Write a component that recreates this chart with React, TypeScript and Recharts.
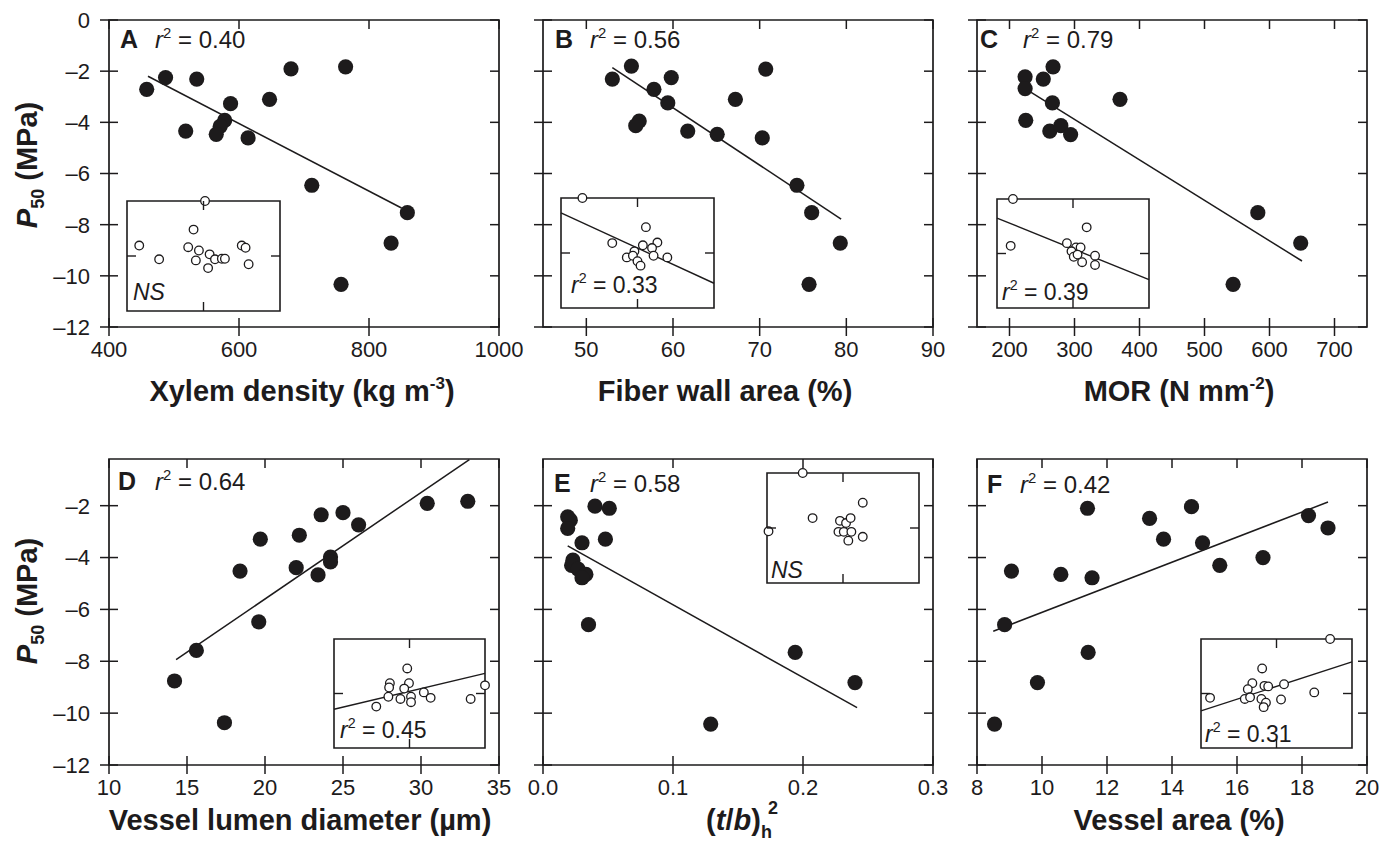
import React from 'react';
import { ScatterChart, Scatter, XAxis, YAxis, ReferenceLine, ReferenceArea } from 'recharts';

const FONT = '"Liberation Sans", Arial, Helvetica, sans-serif';
const INK = '#1d1b1c';

// ---------- Main panel data ----------
const A_X = [458, 487, 535, 680, 764, 587, 647, 518, 578, 571, 565, 614, 712, 859, 834, 757];
const A_Y = [-2.71, -2.25, -2.31, -1.91, -1.83, -3.27, -3.1, -4.34, -3.92, -4.16, -4.47, -4.61, -6.46, -7.53, -8.72, -10.33];
const A_FIT = [{ x: 460, y: -2.2 }, { x: 850, y: -7.35 }];

const B_X = [53.0, 55.2, 59.8, 57.8, 59.4, 70.7, 67.2, 56.1, 55.7, 61.7, 65.1, 70.3, 74.3, 76.0, 79.3, 75.7];
const B_Y = [-2.31, -1.8, -2.25, -2.71, -3.24, -1.92, -3.1, -3.95, -4.13, -4.34, -4.47, -4.61, -6.46, -7.53, -8.72, -10.33];
const B_FIT = [{ x: 53.0, y: -1.86 }, { x: 79.4, y: -7.78 }];

const C_X = [224, 224, 252, 267, 266, 370, 225, 262, 279, 294, 544, 582, 648];
const C_Y = [-2.22, -2.68, -2.31, -1.83, -3.24, -3.1, -3.92, -4.34, -4.13, -4.48, -10.33, -7.53, -8.72];
const C_FIT = [{ x: 224, y: -2.68 }, { x: 650, y: -9.42 }];

const D_X = [14.2, 15.6, 17.4, 18.4, 19.7, 19.6, 22.2, 22.0, 23.6, 25.0, 26.0, 23.4, 24.2, 24.2, 30.4, 33.0];
const D_Y = [-8.76, -7.58, -10.37, -4.52, -3.29, -6.48, -3.14, -4.39, -2.35, -2.27, -2.74, -4.67, -3.98, -4.17, -1.91, -1.83];
const D_FIT = [{ x: 14.3, y: -7.94 }, { x: 33.1, y: -0.22 }];

const E_X = [0.019, 0.021, 0.019, 0.04, 0.051, 0.03, 0.048, 0.023, 0.022, 0.027, 0.033, 0.03, 0.035, 0.194, 0.24, 0.129];
const E_Y = [-2.43, -2.56, -2.88, -2.02, -2.1, -3.43, -3.29, -4.1, -4.3, -4.45, -4.65, -4.78, -6.59, -7.66, -8.82, -10.42];
const E_FIT = [{ x: 0.019, y: -3.55 }, { x: 0.2416, y: -9.79 }];

const F_X = [8.54, 8.85, 9.06, 9.86, 10.58, 11.4, 11.54, 11.42, 13.31, 13.74, 14.6, 14.94, 15.47, 16.8, 18.2, 18.8];
const F_Y = [-10.42, -6.59, -4.52, -8.82, -4.65, -2.1, -4.78, -7.66, -2.49, -3.29, -2.04, -3.43, -4.3, -4.0, -2.38, -2.86];
const F_FIT = [{ x: 8.5, y: -6.84 }, { x: 18.8, y: -1.86 }];

// ---------- Axis ticks ----------
const A_TICKS = [400, 600, 800, 1000];
const B_TICKS = [50, 60, 70, 80, 90];
const C_TICKS = [200, 300, 400, 500, 600, 700];
const D_TICKS = [10, 15, 20, 25, 30, 35];
const E_TICKS = [0, 0.1, 0.2, 0.3];
const F_TICKS = [8, 10, 12, 14, 16, 18, 20];
const TOP_Y_TICKS = [0, -2, -4, -6, -8, -10, -12];
const BOTTOM_Y_TICKS = [-2, -4, -6, -8, -10, -12];

// ---------- Inset data (standardised contrasts) ----------
const IA_X = [0.02, -0.13, -0.84, -0.58, -0.2, -0.06, 0.08, -0.1, 0.15, 0.24, 0.28, 0.06, 0.5, 0.55, 0.59];
const IA_Y = [1.0, 0.48, 0.19, -0.06, 0.16, 0.1, 0.03, -0.08, -0.06, -0.05, -0.05, -0.22, 0.19, 0.15, -0.15];

const IB_X = [-0.72, 0.11, -0.33, 0.07, 0.26, 0.19, -0.04, -0.14, -0.06, 0.21, 0.39, 0.0, 0.04];
const IB_Y = [1.0, 0.47, 0.18, 0.14, 0.19, 0.09, 0.03, -0.08, -0.05, -0.05, -0.08, -0.15, -0.23];
const IB_FIT = [{ x: -1, y: 0.73 }, { x: 1, y: -0.55 }];

const IC_X = [-0.79, -0.82, 0.18, -0.08, 0.04, 0.1, -0.02, 0.01, 0.12, 0.29, 0.29, 0.06];
const IC_Y = [1.0, 0.14, 0.48, 0.19, 0.11, 0.11, 0.04, -0.06, -0.16, -0.04, -0.21, -0.02];
const IC_FIT = [{ x: -1, y: 0.65 }, { x: 1, y: -0.48 }];

const ID_X = [-0.03, -0.26, -0.27, -0.007, -0.07, -0.28, -0.12, 0.02, 0.02, 0.19, 0.28, -0.44, 0.81, 1.0];
const ID_Y = [0.46, 0.19, 0.11, 0.19, 0.09, -0.06, -0.1, -0.06, -0.16, 0.02, -0.08, -0.24, -0.1, 0.15];
const ID_FIT = [{ x: -1, y: -0.29 }, { x: 1, y: 0.37 }];

const IE_X = [-0.53, -0.4, -0.98, -0.04, 0.04, 0.1, -0.06, 0.01, 0.11, 0.07, 0.26, 0.26];
const IE_Y = [1.0, 0.18, -0.06, 0.13, 0.09, 0.18, -0.07, -0.07, -0.07, -0.23, 0.46, -0.16];

const IF_X = [0.71, -0.19, -0.32, -0.38, -0.16, -0.11, 0.1, -0.88, -0.42, -0.35, -0.2, -0.14, -0.17, 0.06, 0.5];
const IF_Y = [1.0, 0.46, 0.19, 0.08, 0.14, 0.13, 0.17, -0.08, -0.1, -0.07, -0.1, -0.17, -0.25, -0.11, 0.02];
const IF_FIT = [{ x: -1, y: -0.32 }, { x: 1, y: 0.58 }];

type Pt = { x: number; y: number };
const zip = (xs: number[], ys: number[]): Pt[] => xs.map((x, i) => ({ x, y: ys[i] }));

const fmtY = (v: number) => (v === 0 ? '0' : '\u2013' + Math.abs(v));

interface PanelProps {
  left: number;
  top: number;
  h: number;
  xDomain: [number, number];
  xTicks: number[];
  yDomain: [number, number];
  yTicks: number[];
  showYLabels: boolean;
  data: Pt[];
  fit: Pt[];
  fmtX: (v: number) => string;
}

function Panel(props: PanelProps) {
  const { left, top, h, xDomain, xTicks, yDomain, yTicks, showYLabels, data, fit, fmtX } = props;
  const PL = 100, PT = 20, PR = 40, XH = 110, PW = 390;
  const W = PL + PW + PR;
  const H = PT + h + XH;
  const pTop = PT, pBottom = PT + h, pLeft = PL, pRight = PL + PW;

  const XTick = (p: any) => {
    const x = p.x;
    return (
      <g>
        <line x1={x} x2={x} y1={pBottom - 9} y2={pBottom + 9} stroke={INK} strokeWidth={1.5} />
        <line x1={x} x2={x} y1={pTop} y2={pTop + 9} stroke={INK} strokeWidth={1.5} />
        <text x={x} y={pBottom + 30} textAnchor="middle" fontSize={22} fontFamily={FONT} fill={INK}>
          {fmtX(p.payload.value)}
        </text>
      </g>
    );
  };
  const YTick = (p: any) => {
    const y = p.y;
    return (
      <g>
        <line x1={pLeft - 9} x2={pLeft + 9} y1={y} y2={y} stroke={INK} strokeWidth={1.5} />
        <line x1={pRight - 9} x2={pRight} y1={y} y2={y} stroke={INK} strokeWidth={1.5} />
        {showYLabels && (
          <text x={pLeft - 19} y={y} dy="0.36em" textAnchor="end" fontSize={22} fontFamily={FONT} fill={INK}>
            {fmtY(p.payload.value)}
          </text>
        )}
      </g>
    );
  };

  return (
    <div style={{ position: 'absolute', left: left - PL, top: top - PT }}>
      <ScatterChart width={W} height={H} margin={{ top: PT, right: PR, bottom: 0, left: 0 }}>
        <XAxis
          type="number"
          dataKey="x"
          domain={xDomain}
          ticks={xTicks}
          interval={0}
          height={XH}
          tick={XTick}
          tickLine={false}
          axisLine={false}
        />
        <YAxis
          type="number"
          dataKey="y"
          domain={yDomain}
          ticks={yTicks}
          interval={0}
          width={PL}
          tick={YTick}
          tickLine={false}
          axisLine={false}
        />
        <ReferenceArea
          x1={xDomain[0]}
          x2={xDomain[1]}
          y1={yDomain[0]}
          y2={yDomain[1]}
          fill="none"
          fillOpacity={0}
          stroke={INK}
          strokeWidth={1.7}
          ifOverflow="visible"
        />
        <ReferenceLine segment={fit as any} stroke={INK} strokeWidth={1.5} ifOverflow="visible" />
        <Scatter
          data={data}
          isAnimationActive={false}
          shape={(p: any) => <circle cx={p.cx} cy={p.cy} r={7.6} fill={INK} />}
        />
      </ScatterChart>
    </div>
  );
}

interface InsetProps {
  left: number;
  top: number;
  w: number;
  h: number;
  data: Pt[];
  fit?: Pt[];
}

function Inset(props: InsetProps) {
  const { left, top, w, h, data, fit } = props;
  const M = 12;
  const pTop = M, pBottom = M + h, pLeft = M, pRight = M + w;
  const XTick = (p: any) => (
    <g>
      <line x1={p.x} x2={p.x} y1={pBottom - 9} y2={pBottom} stroke={INK} strokeWidth={1.4} />
      <line x1={p.x} x2={p.x} y1={pTop} y2={pTop + 9} stroke={INK} strokeWidth={1.4} />
    </g>
  );
  const YTick = (p: any) => (
    <g>
      <line x1={pLeft} x2={pLeft + 9} y1={p.y} y2={p.y} stroke={INK} strokeWidth={1.4} />
      <line x1={pRight - 9} x2={pRight} y1={p.y} y2={p.y} stroke={INK} strokeWidth={1.4} />
    </g>
  );
  return (
    <div style={{ position: 'absolute', left: left - M, top: top - M }}>
      <ScatterChart width={w + 2 * M} height={h + 2 * M} margin={{ top: M, right: M, bottom: 0, left: 0 }}>
        <XAxis type="number" dataKey="x" domain={[-1, 1]} ticks={[0]} height={M} tick={XTick} tickLine={false} axisLine={false} />
        <YAxis type="number" dataKey="y" domain={[-1, 1]} ticks={[0]} width={M} tick={YTick} tickLine={false} axisLine={false} />
        <ReferenceArea x1={-1} x2={1} y1={-1} y2={1} fill="#ffffff" fillOpacity={1} stroke={INK} strokeWidth={1.6} ifOverflow="visible" />
        {fit && <ReferenceLine segment={fit as any} stroke={INK} strokeWidth={1.4} ifOverflow="visible" />}
        <Scatter
          data={data}
          isAnimationActive={false}
          shape={(p: any) => <circle cx={p.cx} cy={p.cy} r={4.3} fill="#ffffff" stroke={INK} strokeWidth={1.3} />}
        />
      </ScatterChart>
    </div>
  );
}

const R2 = ({ x, y, value, size = 24 }: { x: number; y: number; value: string; size?: number }) => (
  <text x={x} y={y} fontSize={size} fontFamily={FONT} fill={INK}>
    <tspan fontStyle="italic">r</tspan>
    <tspan fontSize={size * 0.62} dy={-size * 0.42}>2</tspan>
    <tspan dy={size * 0.42}>{' = ' + value}</tspan>
  </text>
);

const Letter = ({ x, y, t }: { x: number; y: number; t: string }) => (
  <text x={x} y={y} fontSize={25} fontWeight="bold" fontFamily={FONT} fill={INK}>{t}</text>
);

const NS = ({ x, y }: { x: number; y: number }) => (
  <text x={x} y={y} fontSize={23} fontStyle="italic" fontFamily={FONT} fill={INK}>NS</text>
);

const YTitle = ({ cy }: { cy: number }) => (
  <text transform={`translate(37,${cy}) rotate(-90)`} textAnchor="middle" fontSize={29} fontWeight="bold" fontFamily={FONT} fill={INK}>
    <tspan fontStyle="italic">P</tspan>
    <tspan fontSize={18} dy={7}>50</tspan>
    <tspan dy={-7}> (MPa)</tspan>
  </text>
);

const TitleText = ({ x, y, children }: { x: number; y: number; children: React.ReactNode }) => (
  <text x={x} y={y} textAnchor="middle" fontSize={29} fontWeight="bold" fontFamily={FONT} fill={INK}>
    {children}
  </text>
);

const fmt0 = (v: number) => String(v);
const fmt1 = (v: number) => v.toFixed(1);

export default function App() {
  const TOP_T = 20, TOP_H = 307;
  const BOT_T = 459, BOT_H = 306;
  const COLS = [109, 543, 977];
  const TITLE_TOP = 401;
  const TITLE_BOT = 830;
  return (
    <div style={{ position: 'absolute', left: 0, top: 0, width: 1395, height: 855, background: '#ffffff', overflow: 'hidden' }}>
      <Panel left={COLS[0]} top={TOP_T} h={TOP_H} xDomain={[400, 1000]} xTicks={A_TICKS} yDomain={[-12, 0]} yTicks={TOP_Y_TICKS} showYLabels data={zip(A_X, A_Y)} fit={A_FIT} fmtX={fmt0} />
      <Panel left={COLS[1]} top={TOP_T} h={TOP_H} xDomain={[45, 90]} xTicks={B_TICKS} yDomain={[-12, 0]} yTicks={TOP_Y_TICKS} showYLabels={false} data={zip(B_X, B_Y)} fit={B_FIT} fmtX={fmt0} />
      <Panel left={COLS[2]} top={TOP_T} h={TOP_H} xDomain={[150, 750]} xTicks={C_TICKS} yDomain={[-12, 0]} yTicks={TOP_Y_TICKS} showYLabels={false} data={zip(C_X, C_Y)} fit={C_FIT} fmtX={fmt0} />
      <Panel left={COLS[0]} top={BOT_T} h={BOT_H} xDomain={[10, 35]} xTicks={D_TICKS} yDomain={[-12, -0.2]} yTicks={BOTTOM_Y_TICKS} showYLabels data={zip(D_X, D_Y)} fit={D_FIT} fmtX={fmt0} />
      <Panel left={COLS[1]} top={BOT_T} h={BOT_H} xDomain={[0, 0.3]} xTicks={E_TICKS} yDomain={[-12, -0.2]} yTicks={BOTTOM_Y_TICKS} showYLabels={false} data={zip(E_X, E_Y)} fit={E_FIT} fmtX={fmt1} />
      <Panel left={COLS[2]} top={BOT_T} h={BOT_H} xDomain={[8, 20]} xTicks={F_TICKS} yDomain={[-12, -0.2]} yTicks={BOTTOM_Y_TICKS} showYLabels={false} data={zip(F_X, F_Y)} fit={F_FIT} fmtX={fmt0} />

      <Inset left={127} top={201} w={153} h={110} data={zip(IA_X, IA_Y)} />
      <Inset left={561} top={198} w={153} h={110} data={zip(IB_X, IB_Y)} fit={IB_FIT} />
      <Inset left={997} top={199} w={152} h={109} data={zip(IC_X, IC_Y)} fit={IC_FIT} />
      <Inset left={334} top={639} w={151} h={109} data={zip(ID_X, ID_Y)} fit={ID_FIT} />
      <Inset left={767} top={473} w={152} h={110} data={zip(IE_X, IE_Y)} />
      <Inset left={1201} top={639} w={151} h={109} data={zip(IF_X, IF_Y)} fit={IF_FIT} />

      <svg width={1395} height={855} style={{ position: 'absolute', left: 0, top: 0, pointerEvents: 'none' }}>
        <Letter x={120} y={48} t="A" />
        <R2 x={155} y={48} value="0.40" />
        <Letter x={555} y={48} t="B" />
        <R2 x={590} y={48} value="0.56" />
        <Letter x={980} y={48} t="C" />
        <R2 x={1023} y={48} value="0.79" />
        <Letter x={118} y={490} t="D" />
        <R2 x={155} y={490} value="0.64" />
        <Letter x={554} y={492} t="E" />
        <R2 x={590} y={492} value="0.58" />
        <Letter x={987} y={493} t="F" />
        <R2 x={1020} y={493} value="0.42" />

        <NS x={133} y={300} />
        <R2 x={571} y={293} value="0.33" size={23} />
        <R2 x={1002} y={300} value="0.39" size={23} />
        <R2 x={340} y={738} value="0.45" size={23} />
        <NS x={771} y={578} />
        <R2 x={1205} y={742} value="0.31" size={23} />

        <YTitle cy={165} />
        <YTitle cy={601} />

        <TitleText x={302} y={TITLE_TOP}>
          Xylem density (kg m<tspan fontSize={17} dy={-12}>-3</tspan><tspan dy={12}>)</tspan>
        </TitleText>
        <TitleText x={725} y={TITLE_TOP}>Fiber wall area (%)</TitleText>
        <TitleText x={1179} y={TITLE_TOP}>
          MOR (N mm<tspan fontSize={17} dy={-12}>-2</tspan><tspan dy={12}>)</tspan>
        </TitleText>
        <TitleText x={300} y={TITLE_BOT}>Vessel lumen diameter (µm)</TitleText>
        <TitleText x={742} y={TITLE_BOT}>
          (<tspan fontStyle="italic">t</tspan>/<tspan fontStyle="italic">b</tspan>)<tspan fontSize={18} dy={8}>h</tspan>
          <tspan fontSize={18} dx={-4} dy={-24}>2</tspan>
        </TitleText>
        <TitleText x={1179} y={TITLE_BOT}>Vessel area (%)</TitleText>
      </svg>
    </div>
  );
}
